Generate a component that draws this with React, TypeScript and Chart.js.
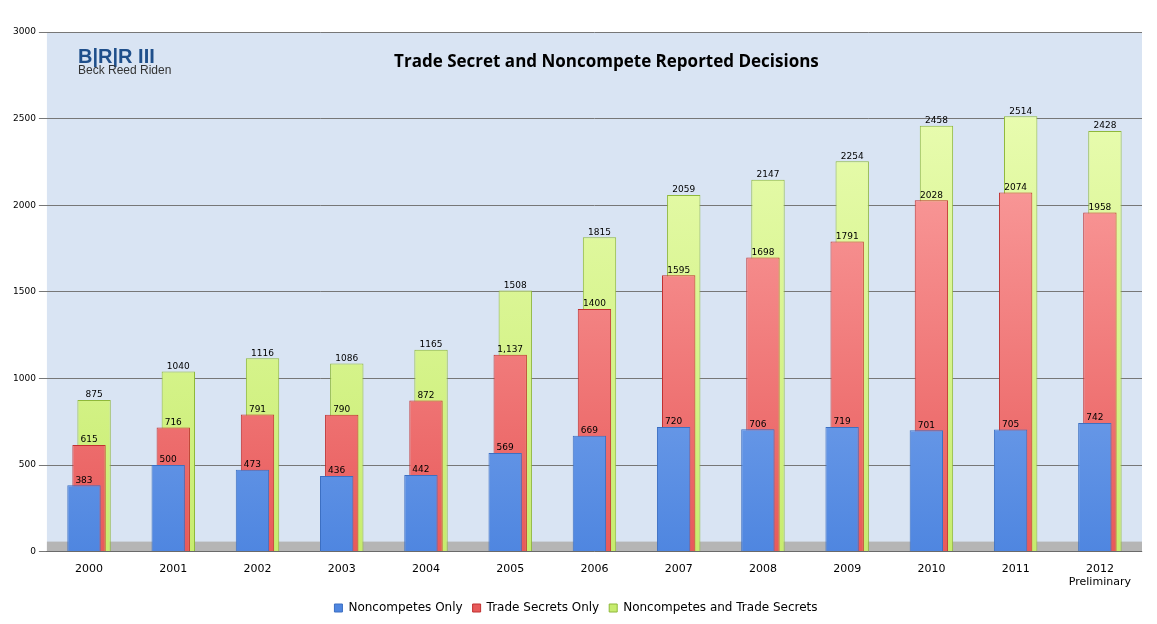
import React, { useEffect, useRef } from "react";
import { Chart, registerables } from "chart.js";
Chart.register(...registerables);

const years = ["2000","2001","2002","2003","2004","2005","2006","2007","2008","2009","2010","2011","2012"];
const noncompetesOnly = [383,500,473,436,442,569,669,720,706,719,701,705,742];
const tradeSecretsOnly = [615,716,791,790,872,1137,1400,1595,1698,1791,2028,2074,1958];
const both = [875,1040,1116,1086,1165,1508,1815,2059,2147,2254,2458,2514,2428];
const yTicks = [0,500,1000,1500,2000,2500,3000];

export default function App() {
  const ref = useRef<HTMLCanvasElement>(null);
  useEffect(() => {
    document.body.style.margin = "0";
    const grad = (ctx: any, c1: string, c2: string) => {
      const { chart } = ctx;
      const a = chart.chartArea;
      if (!a) return c1;
      const g = chart.ctx.createLinearGradient(0, a.bottom, 0, a.top);
      g.addColorStop(0, c1);
      g.addColorStop(1, c2);
      return g;
    };
    const plugin = {
      id: "deco",
      beforeDraw(chart: any) {
        const { ctx, chartArea: a } = chart;
        ctx.save();
        ctx.fillStyle = "#d9e4f3";
        ctx.fillRect(a.left, a.top, a.right - a.left, a.bottom - a.top);
        ctx.fillStyle = "#b5b5b5";
        ctx.fillRect(a.left, a.bottom - 10, a.right - a.left, 10);
        ctx.restore();
      },
      afterDatasetsDraw(chart: any) {
        const { ctx, chartArea: a } = chart;
        ctx.save();
        ctx.font = "9px 'DejaVu Sans', sans-serif";
        ctx.fillStyle = "#000";
        ctx.textAlign = "center";
        chart.data.datasets.forEach((ds: any, i: number) => {
          const meta = chart.getDatasetMeta(i);
          meta.data.forEach((el: any, j: number) => {
            let t = String(ds.data[j]);
            if (i === 1 && j === 5) t = "1,137";
            ctx.fillText(t, el.x, el.y - 5);
          });
        });
        ctx.font = "bold 17px 'Open Sans', sans-serif";
        ctx.fillText("Trade Secret and Noncompete Reported Decisions", (a.left + a.right) / 2 + 12, 62);
        ctx.textAlign = "left";
        ctx.fillStyle = "#1f4f8b";
        ctx.font = "bold 20px 'Liberation Sans', sans-serif";
        ctx.fillText("B|R|R III", 78, 57);
        ctx.font = "12px 'Liberation Sans', sans-serif";
        ctx.fillStyle = "#333";
        ctx.fillText("Beck Reed Riden", 78, 71);
        ctx.restore();
      },
    };
    const chart = new Chart(ref.current!, {
      type: "bar",
      data: {
        labels: years.map((y, i) => (i === years.length - 1 ? [y, "Preliminary"] : y)) as any,
        datasets: [
          { label: "Noncompetes Only", data: noncompetesOnly, order: 1, backgroundColor: (c: any) => grad(c, "#4f86e0", "#a9c8fa"), borderColor: "#3c6fc2", borderWidth: 1 },
          { label: "Trade Secrets Only", data: tradeSecretsOnly, order: 2, backgroundColor: (c: any) => grad(c, "#e85a5a", "#ffb0b0"), borderColor: "#c03030", borderWidth: 1 },
          { label: "Noncompetes and Trade Secrets", data: both, order: 3, backgroundColor: (c: any) => grad(c, "#c7ec6e", "#eeffbb"), borderColor: "#8fb83a", borderWidth: 1 },
        ],
      },
      options: {
        animation: false,
        responsive: false,
        layout: { padding: { right: 15, top: 32, left: 10 } },
        datasets: { bar: { categoryPercentage: 0.18, barPercentage: 6.6 } } as any,
        scales: {
          x: { grid: { display: false }, ticks: { color: "#000", font: { size: 11, family: "'DejaVu Sans', sans-serif" } } },
          y: {
            min: 0, max: 3000,
            afterBuildTicks: (s: any) => { s.ticks = yTicks.map((v) => ({ value: v })); },
            grid: { color: "#777" },
            border: { display: false },
            ticks: { color: "#000", callback: (v: any) => String(v), font: { size: 9, family: "'DejaVu Sans', sans-serif" } },
          },
        },
        plugins: {
          legend: { position: "bottom", labels: { boxWidth: 8, boxHeight: 8, color: "#000", font: { size: 12, family: "'DejaVu Sans', sans-serif" } } },
          tooltip: { enabled: false },
        },
      },
      plugins: [plugin],
    });
    return () => chart.destroy();
  }, []);
  return <canvas ref={ref} width={1157} height={624} style={{ display: "block", background: "#fff" }} />;
}
